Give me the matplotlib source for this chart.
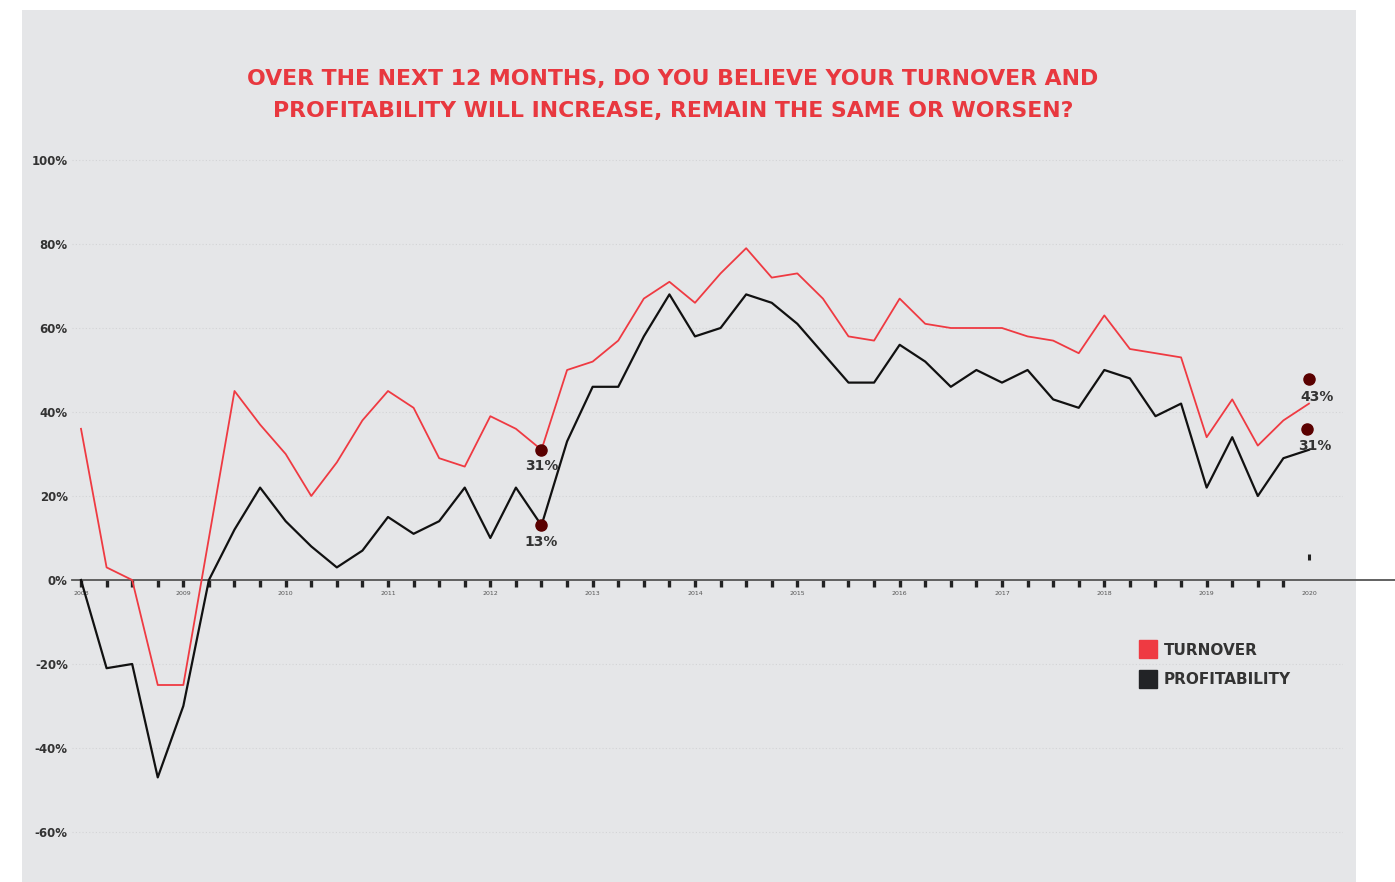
import numpy as np
import matplotlib.pyplot as plt
from matplotlib.patches import Rectangle
from matplotlib.lines import Line2D
from matplotlib.transforms import ScaledTranslation

# Quarterly balance (%), 2008 Q1 .. 2020 Q1
years = ['2008', '2009', '2010', '2011', '2012', '2013', '2014',
         '2015', '2016', '2017', '2018', '2019', '2020']
turnover = [36, 3, 0, -25, -25, 10, 45, 37, 30, 20, 28, 38, 45, 41, 29, 27,
            39, 36, 31, 50, 52, 57, 67, 71, 66, 73, 79, 72, 73, 67, 58, 57,
            67, 61, 60, 60, 60, 58, 57, 54, 63, 55, 54, 53, 34, 43, 32, 38, 42]
profitability = [0, -21, -20, -47, -30, 0, 12, 22, 14, 8, 3, 7, 15, 11, 14, 22,
                 10, 22, 13, 33, 46, 46, 58, 68, 58, 60, 68, 66, 61, 54, 47, 47,
                 56, 52, 46, 50, 47, 50, 43, 41, 50, 48, 39, 42, 22, 34, 20, 29, 31]
yticks = [100, 80, 60, 40, 20, 0, -20, -40, -60]

RED = '#ef3a42'
TITLE_RED = '#e8383f'
DARK = '#111111'
DOT = '#5a0000'
TXT = '#333333'
BG = '#e5e6e8'

W, H = 1395, 882
fig = plt.figure(figsize=(W / 100, H / 100), dpi=100)
fig.patch.set_facecolor('white')
fig.patches.append(Rectangle((22 / W, 0), (1356 - 22) / W, (H - 10) / H,
                             transform=fig.transFigure, facecolor=BG,
                             edgecolor='none', zorder=-10))

# axes placed in pixel terms: x 72..1343, y 150..860
ax = fig.add_axes([72 / W, (H - 860) / H, (1343 - 72) / W, (860 - 150) / H])
ax.set_facecolor('none')
px_q = 25.583
ax.set_xlim((72 - 81) / px_q, (1343 - 81) / px_q)
ax.set_ylim(-(860 - 580) / 4.2, 100 + 10 / 4.2)

x = np.arange(len(turnover))

for v in yticks:
    if v != 0:
        ax.axhline(v, color='#d3d4d6', lw=0.8, ls=(0, (1, 2)), zorder=0)

ax.plot(x, turnover, color=RED, lw=1.3, zorder=3)
ax.plot(x, profitability, color=DARK, lw=1.6, zorder=3)

# zero line running past the panel
ax.axhline(0, xmin=0, xmax=(W - 72) / (1343 - 72), color='#555555', lw=1.3,
           clip_on=False, zorder=2)

for s in ax.spines.values():
    s.set_visible(False)
ax.spines['bottom'].set_position(('data', 0))

ax.set_yticks(yticks)
ax.set_yticklabels([f'{v}%' for v in yticks], fontsize=8.5, fontweight='bold',
                   color=TXT)
ax.tick_params(axis='y', length=0, pad=3)

ax.xaxis.remove_overlapping_locs = False
ax.set_xticks(np.arange(0, len(turnover), 4))
ax.set_xticklabels(years, fontsize=4.5, color='#555555')
ax.set_xticks(np.arange(0, len(turnover) - 1), minor=True)
ax.tick_params(axis='x', which='major', length=0, pad=8)
ax.tick_params(axis='x', which='minor', length=5, width=2.4, color='#222222',
               direction='out')

# stray tick mark near 2020
ax.plot([x[-1], x[-1]], [4.8, 6.2], color='#222222', lw=2.2, solid_capstyle='butt')


# highlighted points
def dot(xv, yv, dx, dy, label, lx, ly):
    off = ScaledTranslation(dx / 72, dy / 72, fig.dpi_scale_trans)
    ax.plot([xv], [yv], 'o', color=DOT, ms=8, zorder=5,
            transform=ax.transData + off)
    ax.annotate(label, (xv, yv), xytext=(lx, ly), textcoords='offset points',
                ha='center', va='center', fontsize=10, fontweight='bold', color=TXT)


dot(18, turnover[18], 0, 0, '31%', 0, -12)
dot(18, profitability[18], 0, 0, '13%', 0, -12)
dot(48, turnover[48], 0, 17.5, '43%', 6, 5)
dot(48, profitability[48], -1.5, 15, '31%', 4.5, 3)

fig.text(673 / W, 1 - 94.5 / H,
         'OVER THE NEXT 12 MONTHS, DO YOU BELIEVE YOUR TURNOVER AND\n'
         'PROFITABILITY WILL INCREASE, REMAIN THE SAME OR WORSEN?',
         ha='center', va='center', color=TITLE_RED, fontsize=15.8,
         fontweight='bold', linespacing=1.75)

handles = [Line2D([], [], ls='none', marker='s', ms=13, color=RED),
           Line2D([], [], ls='none', marker='s', ms=13, color='#222326')]
fig.legend(handles, ['TURNOVER', 'PROFITABILITY'], loc='upper left',
           bbox_to_anchor=(1125 / W, 1 - 629 / H), frameon=False,
           prop={'size': 11, 'weight': 'bold'}, labelcolor=TXT,
           handletextpad=0.45, labelspacing=0.95, handlelength=1.2)

fig.savefig('out.png', dpi=100)
